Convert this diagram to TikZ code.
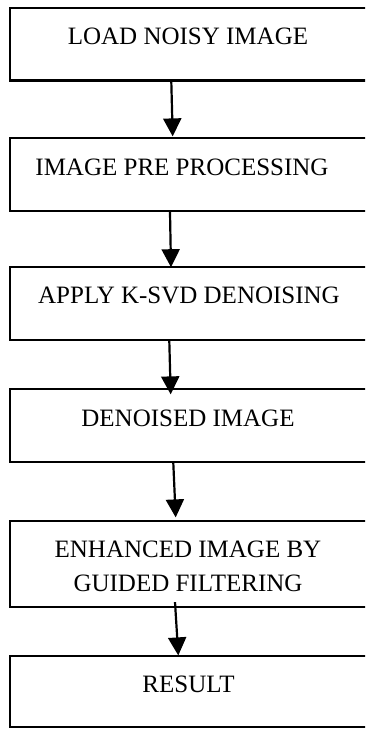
\documentclass[tikz,border=0pt]{standalone}
\usepackage{fontspec}
\setmainfont{Liberation Serif}
\usetikzlibrary{arrows.meta,calc}
\begin{document}
\begin{tikzpicture}[x=1pt,y=-1pt,
  box/.style={draw,line width=2.2pt,rectangle,inner sep=0pt,minimum width=357pt},
  lbl/.style={anchor=base,inner sep=0pt,font=\fontsize{25}{33.5}\selectfont,align=center},
  arr/.style={line width=2.2pt,-{Triangle[length=18pt,width=18pt]}}]
\useasboundingbox (0,0) rectangle (365,729);
\clip (0,0) rectangle (365,729);
\node[box,minimum height=72.5pt] (b1) at (188.5,44.2) {};
\node[box,minimum height=73pt] (b2) at (188.5,174.5) {};
\node[box,minimum height=73pt] (b3) at (188.5,303.5) {};
\node[box,minimum height=73pt] (b4) at (188.5,425.5) {};
\node[box,minimum height=86pt] (b5) at (188.5,564) {};
\node[box,minimum height=71pt] (b6) at (188.5,691.5) {};
\node[lbl] (t1) at (188,44.3) {LOAD NOISY IMAGE};
\node[lbl] (t2) at (182,175.7) {IMAGE PRE PROCESSING};
\node[lbl] (t3) at (189,303.3) {APPLY K-SVD DENOISING};
\node[lbl] (t4) at (188,426) {DENOISED IMAGE};
\node[lbl] (t5) at (188,591) {ENHANCED IMAGE BY\\GUIDED FILTERING};
\node[lbl] (t6) at (188.5,692) {RESULT};
\draw[arr] ($(b1.south)+(-17.2,0)$) -- ($(b2.north)+(-15.8,-0.5)$);
\draw[arr] ($(b2.south)+(-18.5,0)$) -- ($(b3.north)+(-17.5,1.3)$);
\draw[arr] ($(b3.south)+(-19.2,0)$) -- ($(b4.north)+(-17.8,6.5)$);
\draw[arr] ($(b4.south)+(-15.2,0)$) -- ($(b5.north)+(-12.8,-2.5)$);
\draw[arr] ($(b5.south)+(-13.5,-6)$) -- ($(b6.north)+(-10.2,0.5)$);
\end{tikzpicture}
\end{document}
